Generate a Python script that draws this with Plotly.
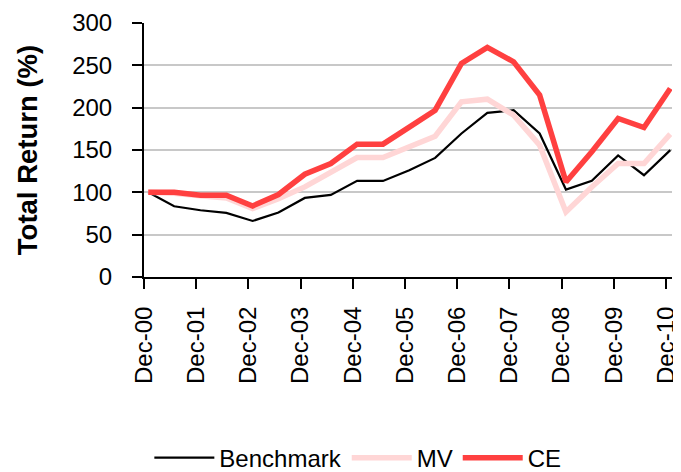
import plotly.graph_objects as go

# Datos del grafico (semestrales, fin de diciembre y junio) ----------
fechas = ["2000-12-31", "2001-06-30", "2001-12-31", "2002-06-30", "2002-12-31",
          "2003-06-30", "2003-12-31", "2004-06-30", "2004-12-31", "2005-06-30",
          "2005-12-31", "2006-06-30", "2006-12-31", "2007-06-30", "2007-12-31",
          "2008-06-30", "2008-12-31", "2009-06-30", "2009-12-31", "2010-06-30",
          "2010-12-31"]
benchmark = [100, 83.6, 78.8, 75.7, 66.2, 76.1, 93.4, 96.9, 113.5, 113.5, 126,
             140.7, 169.5, 193.9, 197, 169.5, 103.3, 113.5, 143.5, 120.2, 149.8]
mv = [100, 99, 96, 93.4, 80.8, 92.6, 106.4, 124.1, 141.1, 141.1, 153,
      166.3, 206.9, 210, 191.1, 155.7, 76.8, 106.4, 134, 134, 168.7]
ce = [100, 100, 96.6, 96.6, 83.9, 97.4, 121.4, 134, 156.9, 156.9, 177,
      197, 252.2, 271.2, 254.2, 214.8, 112.3, 148, 187.2, 176.6, 222.7]

tick_fechas = ["%d-12-01" % a for a in range(2000, 2011)]
tick_labels = ["Dec-%02d" % (a % 100) for a in range(0, 11)]

fuente = "Liberation Sans, Arial, sans-serif"

fig = go.Figure()
fig.add_trace(go.Scatter(x=fechas, y=benchmark, name="Benchmark", mode="lines",
                         line=dict(color="black", width=2.2)))
fig.add_trace(go.Scatter(x=fechas, y=mv, name="MV", mode="lines",
                         line=dict(color="#FFD6D6", width=5.5)))
fig.add_trace(go.Scatter(x=fechas, y=ce, name="CE", mode="lines",
                         line=dict(color="#FF4040", width=5.5)))

# Ejes y layout (la pagina tiene 8px de margen, por eso 673x464)
fig.update_xaxes(type="date", range=["2000-12-01", "2011-01-12"], automargin=False,
                 tickvals=tick_fechas, ticktext=tick_labels, tickangle=-90,
                 ticks="outside", ticklen=10, tickwidth=2, tickcolor="black",
                 ticklabelstandoff=8,
                 showline=True, linecolor="black", linewidth=2, showgrid=False,
                 zeroline=False, tickfont=dict(family=fuente, size=24, color="black"))
fig.update_yaxes(range=[0, 300], dtick=50, ticks="outside", ticklen=10, tickwidth=2,
                 tickcolor="black", showline=True, linecolor="black", linewidth=2,
                 ticklabelstandoff=15, automargin=False,
                 showgrid=True, gridcolor="#C8C8C8", gridwidth=2, zeroline=False,
                 tickfont=dict(family=fuente, size=24, color="black"),
                 title=dict(text="<b>Total Return (%)</b>", standoff=27,
                            font=dict(family=fuente, size=27.5, color="black")))

fig.update_layout(width=673, height=464, margin=dict(l=136, r=9, t=15, b=195, autoexpand=False),
                  plot_bgcolor="white", paper_bgcolor="white",
                  legend=dict(orientation="h", x=0.405, xanchor="center",
                              yref="container", y=0.03, yanchor="middle",
                              font=dict(family=fuente, size=24, color="black"),
                              itemwidth=60))

fig.write_html("out.html")
